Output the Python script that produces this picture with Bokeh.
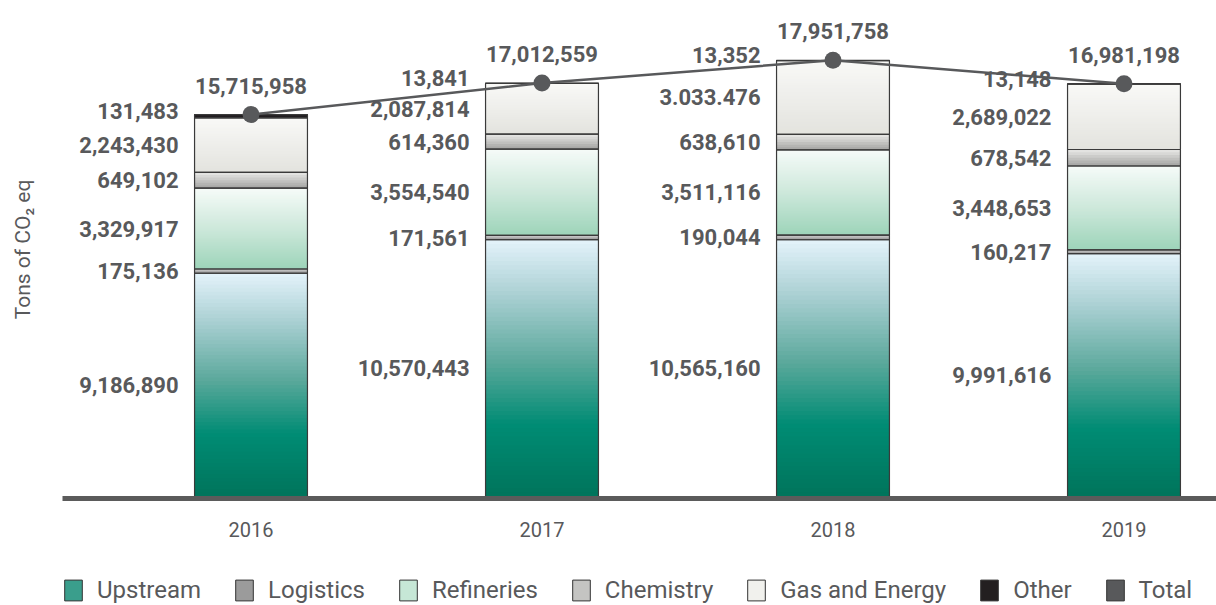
import numpy as np
from bokeh.plotting import figure
from bokeh.layouts import column
from bokeh.models import (ColumnDataSource, Range1d, FixedTicker, Legend, LegendItem)
from bokeh.core.properties import value
from bokeh.embed import file_html
from bokeh.resources import INLINE

# ---------------- data ----------------
years = ["2016", "2017", "2018", "2019"]
upstream = [9186890, 10570443, 10565160, 9991616]
logistics = [175136, 171561, 190044, 160217]
refineries = [3329917, 3554540, 3511116, 3448653]
chemistry = [649102, 614360, 638610, 678542]
gas_energy = [2243430, 2087814, 3033476, 2689022]
other = [131483, 13841, 13352, 13148]
total = [15715958, 17012559, 17951758, 16981198]
series_names = ["Upstream", "Logistics", "Refineries", "Chemistry", "Gas and Energy", "Other"]
legend_labels = ["Upstream", "Logistics", "Refineries", "Chemistry", "Gas and Energy", "Other", "Total"]

# ---------------- styles ----------------
TXT = "#58595b"
FONT = value("Roboto")
gradients = {
    "Upstream": [(0.0, "#00745b"), (0.28, "#008c74"), (0.52, "#5aa89b"), (0.78, "#a9cfd2"), (1.0, "#e4f3fb")],
    "Logistics": [(0.0, "#8e8e8e"), (0.5, "#b5b5b5"), (1.0, "#d0d0d0")],
    "Refineries": [(0.0, "#9dd4b9"), (0.5, "#cde8db"), (1.0, "#f6fbf8")],
    "Chemistry": [(0.0, "#a3a3a1"), (1.0, "#e9e9e7")],
    "Gas and Energy": [(0.0, "#e3e3de"), (1.0, "#f9f9f7")],
    "Other": [(0.0, "#231f20"), (1.0, "#231f20")],
}
legend_colors = ["#3a9e8c", "#9b9b9b", "#c6e7d6", "#c4c4c2", "#f1f1ed", "#231f20", "#58595b"]
BAR_W = 0.388


def hex2rgb(h):
    h = h.lstrip("#")
    return np.array([int(h[i:i + 2], 16) for i in (0, 2, 4)], dtype=float)


def grad_color(stops, t):
    for (t0, c0), (t1, c1) in zip(stops[:-1], stops[1:]):
        if t <= t1:
            f = 0 if t1 == t0 else (t - t0) / (t1 - t0)
            c = hex2rgb(c0) * (1 - f) + hex2rgb(c1) * f
            return "#%02x%02x%02x" % tuple(int(round(v)) for v in c)
    return stops[-1][1]


series = [upstream, logistics, refineries, chemistry, gas_energy, other]
xs = np.arange(len(years))

# gradient bands
bands = dict(left=[], right=[], bottom=[], top=[], color=[])
outl = dict(left=[], right=[], bottom=[], top=[])
seg_centers = {n: [] for n in series_names}
for i in range(len(years)):
    base = 0.0
    for name, vals in zip(series_names, series):
        b, t = base, base + vals[i]
        n = 60 if vals[i] > 1e6 else 6
        for k in range(n):
            bb = b + (t - b) * k / n
            bands["left"].append(xs[i] - BAR_W / 2)
            bands["right"].append(xs[i] + BAR_W / 2)
            bands["bottom"].append(bb)
            bands["top"].append(t)
            bands["color"].append(grad_color(gradients[name], (k + 0.5) / n))
        outl["left"].append(xs[i] - BAR_W / 2)
        outl["right"].append(xs[i] + BAR_W / 2)
        outl["bottom"].append(b)
        outl["top"].append(t)
        seg_centers[name].append((b + t) / 2)
        base = t

p = figure(width=1216, height=576,
           x_range=Range1d(-0.6478, 3.3179), y_range=Range1d(-82300, 20.411e6),
           output_backend="svg", toolbar_location=None,
           min_border_left=62, min_border_right=0, min_border_top=0, min_border_bottom=78)
p.background_fill_color = "white"
p.border_fill_color = "white"
p.outline_line_color = None
p.xgrid.visible = False
p.ygrid.visible = False

p.quad(left="left", right="right", bottom="bottom", top="top", fill_color="color",
       line_color=None, source=ColumnDataSource(bands))
p.quad(left="left", right="right", bottom="bottom", top="top", fill_color=None,
       line_color="#3a3a3a", line_width=1.2, source=ColumnDataSource(outl))

# segment labels
label_common = dict(text_align="right", text_baseline="middle", text_font=FONT,
                    text_font_style="bold", text_font_size="22px", text_color=TXT, x_offset=-72.5)
for name, vals in zip(series_names, series):
    texts = [f"{v:,}" for v in vals]
    if name == "Gas and Energy":
        texts[2] = "3.033.476"
    src = ColumnDataSource(dict(x=xs, y=seg_centers[name], text=texts))
    p.text(x="x", y="y", text="text", source=src,
           y_offset=(-5 if name == "Other" else 0), **label_common)

# total labels
p.text(x=xs, y=total, text=[f"{v:,}" for v in total], text_align="center", text_baseline="middle",
       text_font=FONT, text_font_style="bold", text_font_size="22px", text_color=TXT, y_offset=-29)

# total line + dots
p.line(x=xs, y=total, line_color="#58595b", line_width=2.5)
p.scatter(x=xs, y=total, size=17, fill_color="#58595b", line_color=None)

# axes
xa = p.xaxis[0]
xa.ticker = FixedTicker(ticks=list(xs))
xa.major_label_overrides = {int(i): y for i, y in zip(xs, years)}
xa.major_tick_line_color = None
xa.minor_tick_line_color = None
xa.axis_line_color = "#5b5b5b"
xa.axis_line_width = 5
xa.major_label_text_font = "Roboto"
xa.major_label_text_font_size = "20px"
xa.major_label_text_color = TXT
xa.major_label_standoff = 17

ya = p.yaxis[0]
ya.ticker = FixedTicker(ticks=[])
ya.axis_line_color = None
ya.major_tick_line_color = None
ya.minor_tick_line_color = None
ya.major_label_text_font_size = "0px"
ya.major_label_standoff = 0
ya.axis_label = "Tons of CO\u2082 eq"
ya.axis_label_text_font = "Roboto"
ya.axis_label_text_font_style = "normal"
ya.axis_label_text_font_size = "21px"
ya.axis_label_text_color = TXT
ya.axis_label_standoff = 28

# legend strip (its own small figure under the chart)
lg = figure(width=1216, height=29, x_range=Range1d(0, 1), y_range=Range1d(0, 1),
            output_backend="svg", toolbar_location=None,
            x_axis_location=None, y_axis_location=None,
            min_border_left=62, min_border_right=0, min_border_top=0, min_border_bottom=0)
lg.outline_line_color = None
lg.grid.visible = False
lg.background_fill_color = "white"
lg.border_fill_color = "white"
dummy = ColumnDataSource(dict(left=[np.nan], right=[np.nan], top=[np.nan], bottom=[np.nan]))
items = []
for name, col in zip(legend_labels, legend_colors):
    r = lg.quad(left="left", right="right", top="top", bottom="bottom", source=dummy,
                fill_color=col, line_color="#333333", line_width=1)
    items.append(LegendItem(label=name, renderers=[r]))
legend = Legend(items=items, orientation="horizontal", location="top_left",
                glyph_width=22, glyph_height=26, label_standoff=13, spacing=32,
                padding=0, margin=0, border_line_color=None, background_fill_alpha=0,
                label_text_font="Roboto", label_text_font_size="24px", label_text_color=TXT)
lg.add_layout(legend, "center")

layout = column(p, lg, spacing=0)
open("out.html", "w").write(file_html(layout, INLINE))
